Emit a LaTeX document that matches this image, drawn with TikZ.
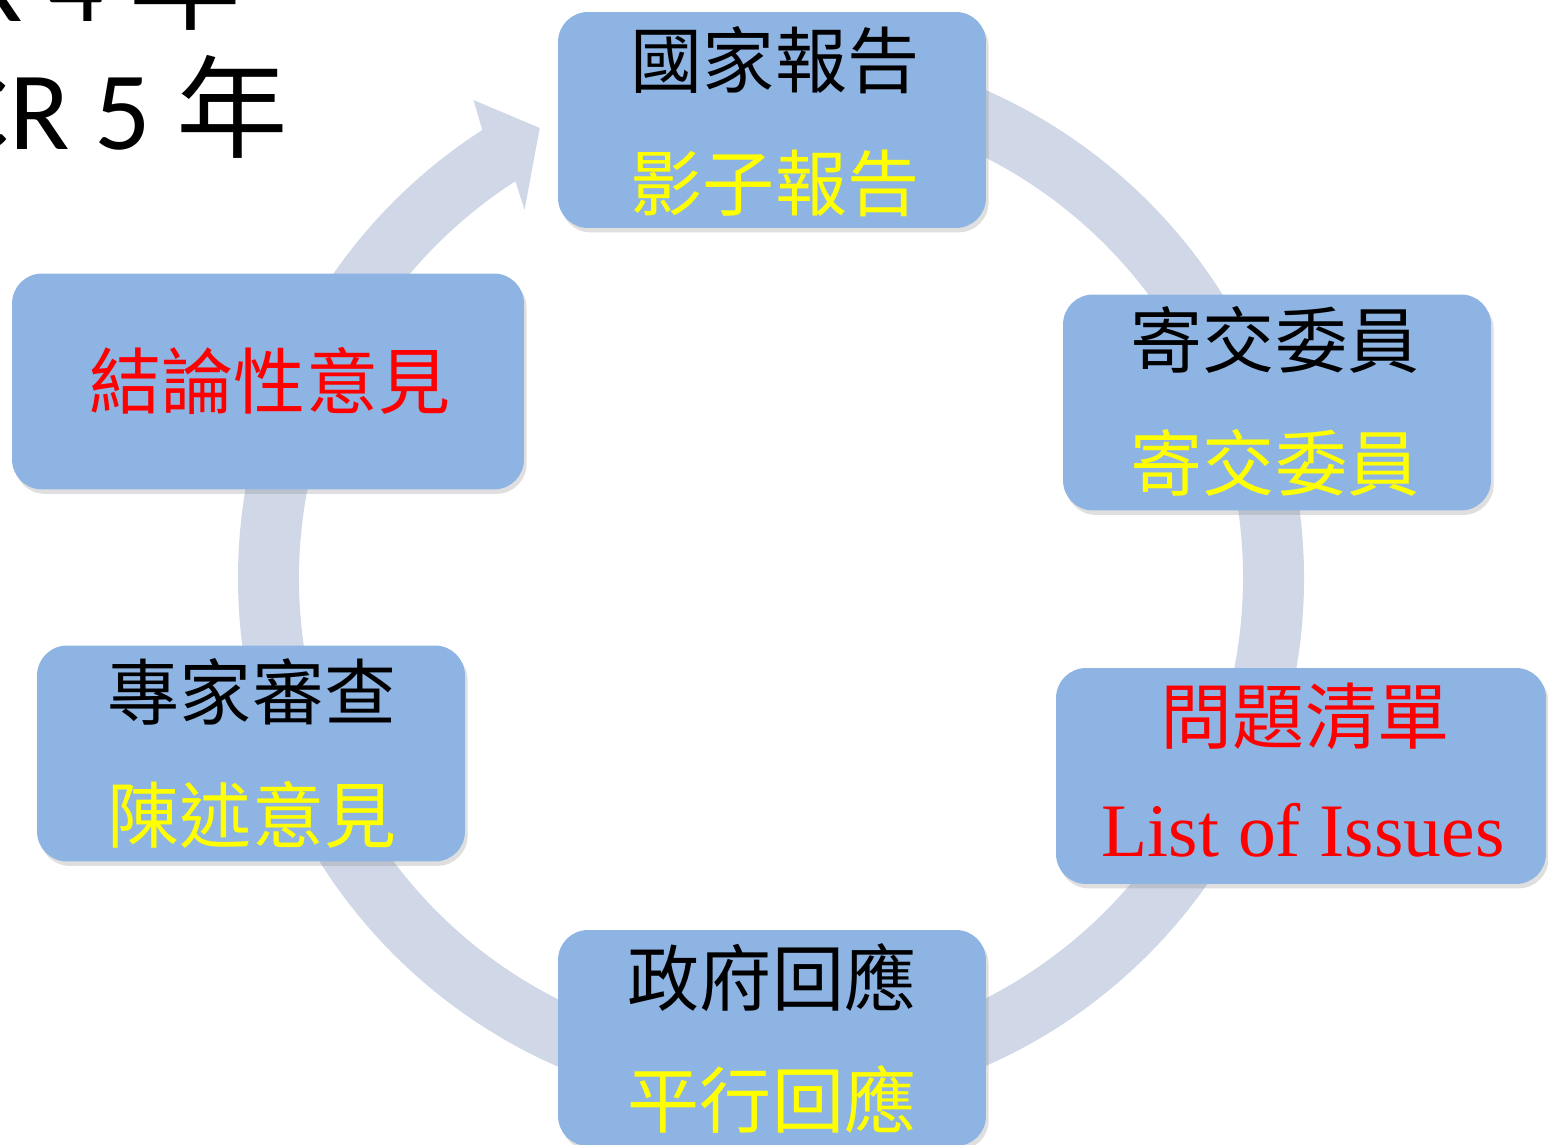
\documentclass[tikz,border=0pt]{standalone}
\usepackage{fontspec}
\setmainfont{Liberation Serif}
\newfontfamily\cjk{Noto Sans CJK TC}
\newfontfamily\calibri{Carlito}
\usetikzlibrary{shadows}
\definecolor{kuang}{HTML}{8EB4E3}
\definecolor{huan}{HTML}{D0D8E8}
\definecolor{huang}{HTML}{FFFF00}
\definecolor{hong}{HTML}{FF0000}
\begin{document}
\begin{tikzpicture}[x=0.02cm,y=0.02cm,
  kuangbox/.style={fill=kuang,rounded corners=0.6cm,minimum height=4.32cm,inner sep=0pt,
    drop shadow={opacity=0.25,shadow xshift=1.5pt,shadow yshift=-2.5pt}},
  zi/.style={font=\fontsize{41}{41}\selectfont\cjk,inner sep=0pt},
  nianfen/.style={anchor=base west,font=\fontsize{63.5}{64}\selectfont\calibri,inner sep=0pt}]
\useasboundingbox (0,0) rectangle (1548,1145);
%左上角文字
\node[nianfen] (iccpr) at (-243,1123) {ICCPR 4 {\cjk 年}};
\node[nianfen] (icescr) at (-243,995) {ICESCR 5 {\cjk 年}};
%圆环和箭头
\coordinate (c) at (771,567);
\fill[huan] ([shift={(95:533)}]c) arc[start angle=95,end angle=-237.2,radius=533]
  -- ([shift={(121.9:563)}]c) -- ([shift={(117.2:506)}]c) -- ([shift={(123.8:443)}]c)
  -- ([shift={(-237.2:472)}]c) arc[start angle=-237.2,end angle=95,radius=472] -- cycle;
%方框
\node[kuangbox,minimum width=8.56cm] (guojia) at (772,1025) {};
\node[kuangbox,minimum width=8.56cm] (jijiao) at (1277,742.5) {};
\node[kuangbox,minimum width=9.8cm] (wenti) at (1301,369) {};
\node[kuangbox,minimum width=8.56cm] (zhengfu) at (772,107) {};
\node[kuangbox,minimum width=8.56cm] (zhuanjia) at (251,391.5) {};
\node[kuangbox,minimum width=10.24cm] (jielun) at (268,763.5) {};
%框内文字
\node[zi] (guojia1) at (775,1085) {國家報告};
\node[zi,huang] (guojia2) at (775,962) {影子報告};
\node[zi] (jijiao1) at (1275,805) {寄交委員};
\node[zi,huang] (jijiao2) at (1275,682) {寄交委員};
\node[zi,hong] (wenti1) at (1305,429) {問題清單};
\node[hong,anchor=base,inner sep=0pt,font=\fontsize{43}{43}\selectfont] (wenti2) at (1303,288) {List of Issues};
\node[zi] (zhengfu1) at (772,167) {政府回應};
\node[zi,huang] (zhengfu2) at (772,45) {平行回應};
\node[zi] (zhuanjia1) at (252,453) {專家審查};
\node[zi,huang] (zhuanjia2) at (252,330) {陳述意見};
\node[zi,hong] (jielun1) at (270,764) {結論性意見};
\end{tikzpicture}
\end{document}
